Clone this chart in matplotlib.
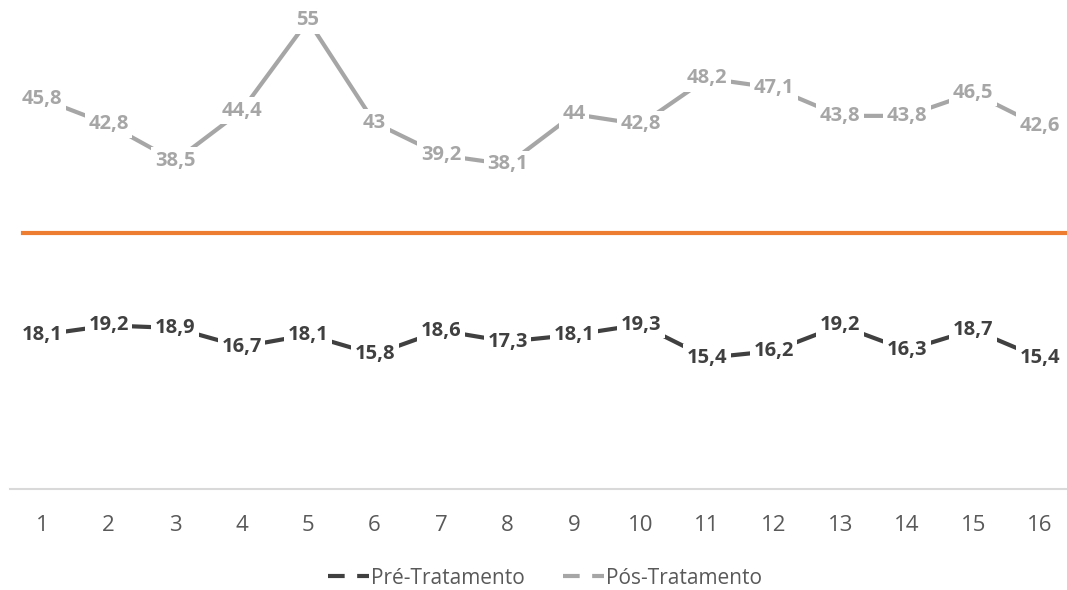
import matplotlib
matplotlib.use("Agg")
import matplotlib.pyplot as plt
from matplotlib.lines import Line2D

plt.rcParams['font.family'] = ['Open Sans', 'DejaVu Sans']

sessions = list(range(1, 17))
pre_tratamento = [18.1, 19.2, 18.9, 16.7, 18.1, 15.8, 18.6, 17.3,
                  18.1, 19.3, 15.4, 16.2, 19.2, 16.3, 18.7, 15.4]
pos_tratamento = [45.8, 42.8, 38.5, 44.4, 55, 43, 39.2, 38.1,
                  44, 42.8, 48.2, 47.1, 43.8, 43.8, 46.5, 42.6]
threshold = 30

PRE_COLOR = '#404040'
POS_COLOR = '#A6A6A6'
ORANGE = '#ED7D31'

W, H = 1067, 590
fig = plt.figure(figsize=(W / 100, H / 100), dpi=100)
ax = fig.add_axes([10 / W, 101 / H, 1057 / W, 489 / H])

ax.set_xlim(0.519, 16.41)
ax.set_ylim(0, 57.4)

ax.plot(sessions, pos_tratamento, color=POS_COLOR, lw=3, solid_capstyle='butt', zorder=2)
ax.plot(sessions, pre_tratamento, color=PRE_COLOR, lw=3, solid_capstyle='butt', zorder=2)
ax.axhline(threshold, xmin=13 / 1057, xmax=1.0, color=ORANGE, lw=3, zorder=1)


def fmt(v):
    s = f"{v:.1f}".rstrip('0').rstrip('.')
    return s.replace('.', ',')


for xs, ys, col in ((sessions, pos_tratamento, POS_COLOR),
                    (sessions, pre_tratamento, PRE_COLOR)):
    for x, y in zip(xs, ys):
        ax.text(x, y, fmt(y), ha='center', va='center', fontsize=14.5,
                fontweight='bold', color=col, zorder=3,
                bbox=dict(boxstyle='square,pad=0.18', fc='white', ec='none'))

for side in ('top', 'right', 'left'):
    ax.spines[side].set_visible(False)
ax.spines['bottom'].set_color('#D9D9D9')
ax.spines['bottom'].set_linewidth(1.5)
ax.set_yticks([])
ax.set_xticks(sessions)
ax.set_xticklabels([str(s) for s in sessions])
ax.tick_params(axis='x', length=0, pad=19, labelsize=16, labelcolor='#595959')

handles = [
    Line2D([], [], color=PRE_COLOR, lw=3, linestyle=(0, (4, 3))),
    Line2D([], [], color=POS_COLOR, lw=3, linestyle=(0, (4, 3))),
]
fig.legend(handles, ['Pré-Tratamento', 'Pós-Tratamento'], loc='center',
           bbox_to_anchor=(545 / W, 1 - 578 / H), ncol=2, frameon=False,
           fontsize=15, labelcolor='#595959', handlelength=2.0,
           handletextpad=0.1, columnspacing=1.8)

fig.savefig('out.png', dpi=100)
